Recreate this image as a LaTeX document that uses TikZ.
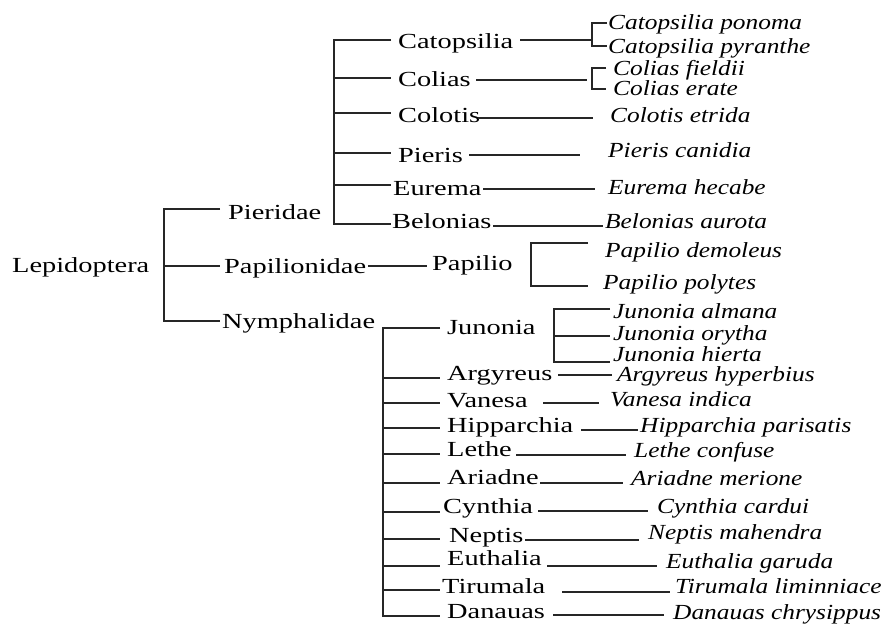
\documentclass[tikz,border=0pt]{standalone}
\usepackage{fontspec}
\setmainfont{Liberation Serif}
\usepackage{graphicx}
\newcommand\hx[1]{\scalebox{1.32}[1]{#1}}
\newcommand\hy[1]{\scalebox{1.18}[1]{\itshape #1}}
\tikzset{
  lab/.style={anchor=base west, inner sep=0pt, font=\fontsize{21.5}{24}\selectfont},
  sp/.style={anchor=base west, inner sep=0pt, font=\fontsize{21.5}{24}\selectfont},
  ln/.style={line width=1.2pt, draw=black!85}
}
\begin{document}
\begin{tikzpicture}[x=1pt,y=-1pt]
\useasboundingbox (0,0) rectangle (889,624);
% family level
\node[lab] (lep) at (12,272) {\hx{Lepidoptera}};
\node[lab] (pie) at (228,219) {\hx{Pieridae}};
\node[lab] (pap) at (224,273) {\hx{Papilionidae}};
\node[lab] (nym) at (222,328) {\hx{Nymphalidae}};
\node[lab] (papg) at (432,270) {\hx{Papilio}};
% Pieridae genera
\node[lab] (cat) at (398,48) {\hx{Catopsilia}};
\node[lab] (col) at (398,86) {\hx{Colias}};
\node[lab] (clt) at (398,122) {\hx{Colotis}};
\node[lab] (pis) at (398,162) {\hx{Pieris}};
\node[lab] (eur) at (393,195) {\hx{Eurema}};
\node[lab] (bel) at (392,228) {\hx{Belonias}};
% Pieridae species
\node[sp] (cat1) at (608,29) {\hy{Catopsilia ponoma}};
\node[sp] (cat2) at (608,53) {\hy{Catopsilia pyranthe}};
\node[sp] (col1) at (613,75) {\hy{Colias fieldii}};
\node[sp] (col2) at (613,95) {\hy{Colias erate}};
\node[sp] (clt1) at (610,122) {\hy{Colotis etrida}};
\node[sp] (pis1) at (608,157) {\hy{Pieris canidia}};
\node[sp] (eur1) at (608,194) {\hy{Eurema hecabe}};
\node[sp] (bel1) at (605,228) {\hy{Belonias aurota}};
\node[sp] (pap1) at (605,257) {\hy{Papilio demoleus}};
\node[sp] (pap2) at (603,289) {\hy{Papilio polytes}};
% Nymphalidae genera
\node[lab] (jun) at (447,334) {\hx{Junonia}};
\node[lab] (arg) at (447,380) {\hx{Argyreus}};
\node[lab] (van) at (447,407) {\hx{Vanesa}};
\node[lab] (hip) at (447,432) {\hx{Hipparchia}};
\node[lab] (let) at (447,456) {\hx{Lethe}};
\node[lab] (ari) at (447,484) {\hx{Ariadne}};
\node[lab] (cyn) at (443,513) {\hx{Cynthia}};
\node[lab] (nep) at (449,542) {\hx{Neptis}};
\node[lab] (eut) at (447,565) {\hx{Euthalia}};
\node[lab] (tir) at (442,593) {\hx{Tirumala}};
\node[lab] (dan) at (447,618) {\hx{Danauas}};
% Nymphalidae species
\node[sp] (jun1) at (613,318) {\hy{Junonia almana}};
\node[sp] (jun2) at (613,340) {\hy{Junonia orytha}};
\node[sp] (jun3) at (613,361) {\hy{Junonia hierta}};
\node[sp] (arg1) at (617,381) {\hy{Argyreus hyperbius}};
\node[sp] (van1) at (610,406) {\hy{Vanesa indica}};
\node[sp] (hip1) at (640,432) {\hy{Hipparchia parisatis}};
\node[sp] (let1) at (634,457) {\hy{Lethe confuse}};
\node[sp] (ari1) at (631,485) {\hy{Ariadne merione}};
\node[sp] (cyn1) at (657,513) {\hy{Cynthia cardui}};
\node[sp] (nep1) at (648,539) {\hy{Neptis mahendra}};
\node[sp] (eut1) at (666,568) {\hy{Euthalia garuda}};
\node[sp] (tir1) at (675,593) {\hy{Tirumala liminniace}};
\node[sp] (dan1) at (673,619) {\hy{Danauas chrysippus}};
% connectors
\draw[ln] (220,209) -- (164,209) -- (164,321) -- (220,321);
\draw[ln] (164,266) -- (220,266);
\draw[ln] (368,266) -- (427,266);
% Pieridae bracket
\draw[ln] (391,40) -- (334,40) -- (334,224) -- (391,224);
\foreach \y in {78,113,153,185} \draw[ln] (334,\y) -- (391,\y);
\draw[ln] (520,40) -- (592,40);
\draw[ln] (607,23) -- (592,23) -- (592,46) -- (607,46);
\draw[ln] (476,80) -- (587,80);
\draw[ln] (606,68) -- (592,68) -- (592,89) -- (606,89);
\draw[ln] (478,118) -- (593,118);
\draw[ln] (469,155) -- (580,155);
\draw[ln] (483,189) -- (595,189);
\draw[ln] (493,226) -- (603,226);
\draw[ln] (588,243) -- (531,243) -- (531,286) -- (588,286);
% Nymphalidae bracket
\draw[ln] (440,328) -- (383,328) -- (383,616) -- (440,616);
\foreach \y in {378,403,428,454,483,512,539,566,590} \draw[ln] (383,\y) -- (440,\y);
\draw[ln] (610,309) -- (554,309) -- (554,362) -- (610,362);
\draw[ln] (554,336) -- (610,336);
\draw[ln] (558,375) -- (612,375);
\draw[ln] (543,403) -- (599,403);
\draw[ln] (581,430) -- (638,430);
\draw[ln] (516,455) -- (626,455);
\draw[ln] (540,483) -- (623,483);
\draw[ln] (538,511) -- (648,511);
\draw[ln] (525,540) -- (639,540);
\draw[ln] (547,566) -- (657,566);
\draw[ln] (562,592) -- (670,592);
\draw[ln] (553,615) -- (664,615);
\end{tikzpicture}
\end{document}
